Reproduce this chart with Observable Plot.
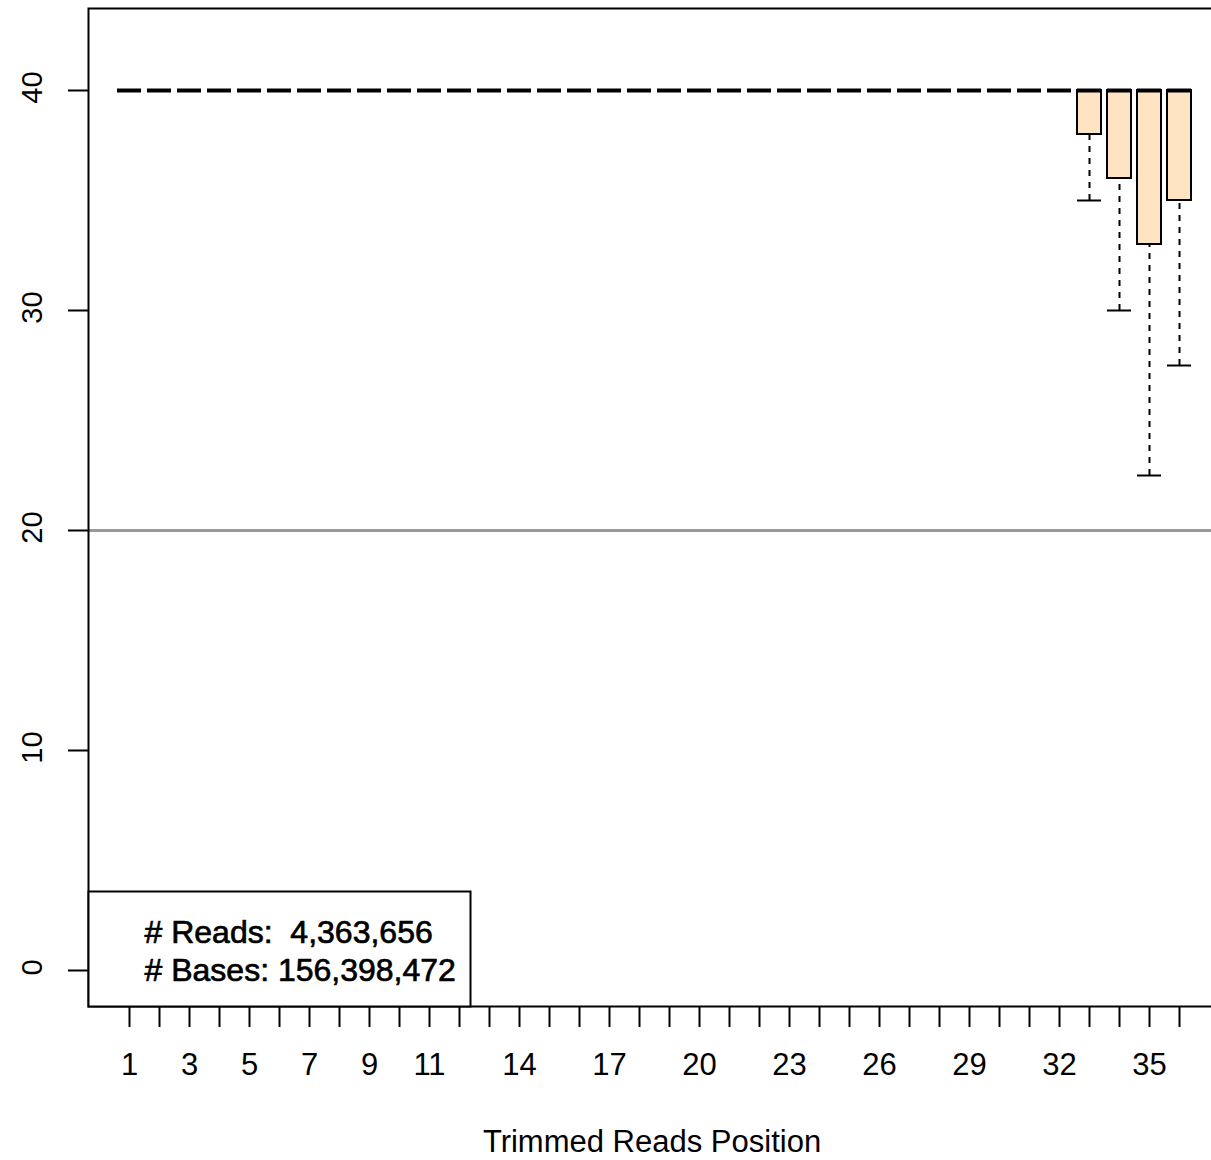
<!DOCTYPE html>
<html>
<head>
<meta charset="utf-8">
<script src="https://cdn.jsdelivr.net/npm/d3@7"></script>
<script src="https://cdn.jsdelivr.net/npm/@observablehq/plot@0.6"></script>
<style>
  html, body { margin: 0; padding: 0; background: #fff; overflow: hidden; }
  #chart svg { overflow: hidden; }
  #chart svg text { white-space: pre; }
</style>
</head>
<body>
<div id="chart"></div>
<script>
// ---- data ----
const positions = [1,2,3,4,5,6,7,8,9,10,11,12,13,14,15,16,17,18,19,20,21,22,23,24,25,26,27,28,29,30,31,32,33,34,35,36];
const lowerWhisker  = [40,40,40,40,40,40,40,40,40,40,40,40,40,40,40,40,40,40,40,40,40,40,40,40,40,40,40,40,40,40,40,40,35,30,22.5,27.5];
const lowerQuartile = [40,40,40,40,40,40,40,40,40,40,40,40,40,40,40,40,40,40,40,40,40,40,40,40,40,40,40,40,40,40,40,40,38,36,33,35];
const medianValue   = [40,40,40,40,40,40,40,40,40,40,40,40,40,40,40,40,40,40,40,40,40,40,40,40,40,40,40,40,40,40,40,40,40,40,40,40];
const upperQuartile = [40,40,40,40,40,40,40,40,40,40,40,40,40,40,40,40,40,40,40,40,40,40,40,40,40,40,40,40,40,40,40,40,40,40,40,40];
const upperWhisker  = [40,40,40,40,40,40,40,40,40,40,40,40,40,40,40,40,40,40,40,40,40,40,40,40,40,40,40,40,40,40,40,40,40,40,40,40];
const xTickLabels = [1,3,5,7,9,11,14,17,20,23,26,29,32,35];
const yTicks = [0,10,20,30,40];
const qualityThreshold = 20;
const legendLines = ["# Reads:  4,363,656", "# Bases: 156,398,472"];
const xTitle = "Trimmed Reads Position";

// ---- table built from the arrays ----
const rows = positions.map((p, i) => ({
  pos: p, lw: lowerWhisker[i], q1: lowerQuartile[i], med: medianValue[i],
  q3: upperQuartile[i], uw: upperWhisker[i]
}));
const half = 0.4;
const withWhisker = rows.filter(d => d.lw < d.q1);
const withBox = rows.filter(d => d.q1 < d.q3);

const W = 1211, H = 1160, ML = 88, MR = -4, MT = 8, MB = 154;
const font = "Liberation Sans, Arial, Helvetica, sans-serif";

const chart = Plot.plot({
  width: W, height: H,
  marginLeft: ML, marginRight: MR, marginTop: MT, marginBottom: MB,
  style: { fontFamily: font, background: "white", color: "black" },
  x: { type: "linear", domain: [1, 36], insetLeft: 41, insetRight: 36 },
  y: { type: "linear", domain: [0, 40], insetTop: 82, insetBottom: 36 },
  marks: [
    Plot.ruleY([qualityThreshold], { stroke: "#999999", strokeWidth: 3 }),
    Plot.ruleX(withWhisker, { x: "pos", y1: "lw", y2: "q1", stroke: "black", strokeWidth: 2, strokeDasharray: "6,6" }),
    Plot.ruleY(withWhisker, { x1: d => d.pos - half, x2: d => d.pos + half, y: "lw", stroke: "black", strokeWidth: 2 }),
    Plot.rect(withBox, { x1: d => d.pos - half, x2: d => d.pos + half, y1: "q1", y2: "q3", fill: "#FFE4C4", stroke: "black", strokeWidth: 2 }),
    Plot.ruleY(rows, { x1: d => d.pos - half, x2: d => d.pos + half, y: "med", stroke: "black", strokeWidth: 4 }),
    Plot.frame({ stroke: "black", strokeWidth: 2 }),
    // legend box (bottom-left)
    Plot.frame({ insetRight: (W - MR) - 470, insetTop: 891 - MT, fill: "white", stroke: "black", strokeWidth: 2 }),
    Plot.text([legendLines.join("\n")], {
      text: d => d, frameAnchor: "bottom-left", textAnchor: "start", lineAnchor: "bottom",
      dx: 56, dy: -26, fontSize: 32, lineHeight: 1.166, fill: "black", stroke: "black", strokeWidth: 0.7
    }),
    // axes
    Plot.axisY({ ticks: yTicks, tickSize: 20, tickFormat: () => "", label: null, strokeWidth: 2 }),
    Plot.axisX({ ticks: positions, tickSize: 21, tickFormat: () => "", label: null, strokeWidth: 2 }),
    Plot.text(yTicks, { y: d => d, text: d => String(d), frameAnchor: "left", dx: -47, dy: -3, rotate: -90,
      lineAnchor: "bottom", textAnchor: "middle", fontSize: 29, fill: "black" }),
    Plot.text(xTickLabels, { x: d => d, text: d => String(d), frameAnchor: "bottom", dy: 68,
      lineAnchor: "bottom", textAnchor: "middle", fontSize: 31, fill: "black" }),
    Plot.text([xTitle], { text: d => d, frameAnchor: "bottom", dy: 145, lineAnchor: "bottom",
      textAnchor: "middle", fontSize: 31, fill: "black" })
  ]
});
document.getElementById("chart").appendChild(chart);
</script>
</body>
</html>
